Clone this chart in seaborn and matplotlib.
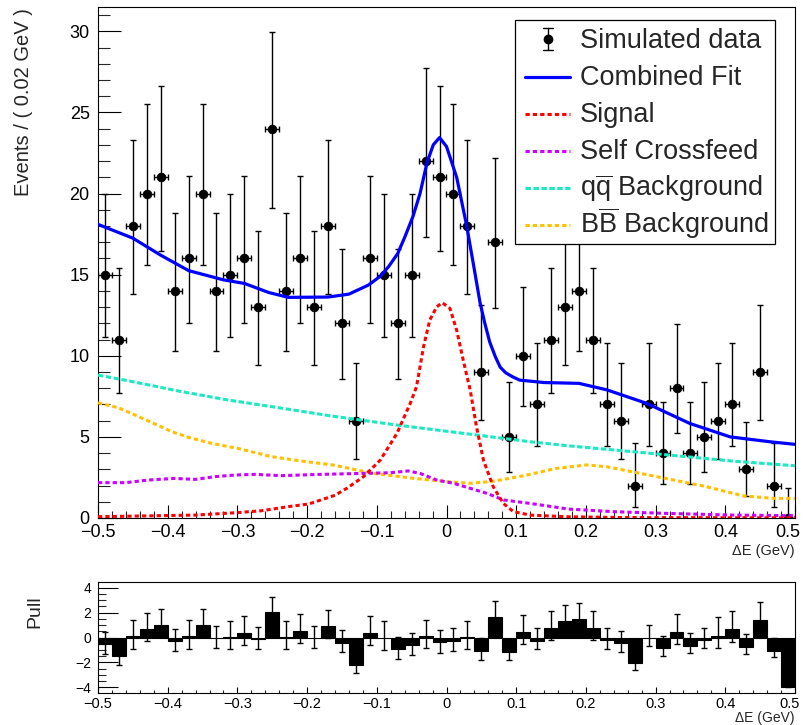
import math
import numpy as np
import pandas as pd
import matplotlib
matplotlib.use("Agg")
import matplotlib.pyplot as plt
import matplotlib.transforms as mtrans
import seaborn as sns
from matplotlib.lines import Line2D
from matplotlib.patches import Rectangle
from matplotlib.ticker import MultipleLocator, FixedLocator

# ---------------- data ----------------
bin_centers = np.round(np.arange(-0.49, 0.5, 0.02), 2)
counts = [15, 11, 18, 20, 21, 14, 16, 20, 14, 15, 16, 13, 24, 14, 16, 13, 18, 12, 6, 16,
          15, 12, 15, 22, 21, 20, 18, 9, 17, 5, 10, 7, 11, 13, 14, 11, 7, 6, 2, 7,
          4, 8, 4, 5, 6, 7, 3, 9, 2, 0]
pulls = [-0.53, -1.47, 0.1, 0.72, 1.04, -0.3, 0.1, 1.04, -0.08, 0.05, 0.4, -0.16, 2.05,
         0.05, 0.56, -0.08, 0.96, -0.43, -2.2, 0.4, 0.0, -0.96, -0.64, 0.13, -0.4,
         -0.27, 0.05, -1.07, 1.63, -1.15, 0.45, -0.27, 0.8, 1.31, 1.49, 0.8, -0.2,
         -0.48, -2.08, -0.03, -0.88, 0.45, -0.67, -0.2, 0.13, 0.67, -0.75, 1.41, -1.07, -3.95]

fit_x = [-0.50, -0.45, -0.41, -0.37, -0.32, -0.29, -0.255, -0.227, -0.17, -0.14, -0.112,
         -0.095, -0.083, -0.07, -0.06, -0.048, -0.038, -0.028, -0.019, -0.010, 0.0, 0.0146,
         0.029, 0.04, 0.048, 0.055, 0.062, 0.07, 0.077, 0.085, 0.095, 0.105, 0.14, 0.19,
         0.23, 0.287, 0.349, 0.407, 0.464, 0.50]
fit_y = [18.1, 17.25, 16.2, 15.25, 14.68, 14.46, 13.9, 13.6, 13.62, 13.8, 14.36,
         14.9, 15.5, 16.3, 17.3, 18.6, 20.0, 21.9, 23.0, 23.45, 22.9, 21.0,
         18.0, 15.3, 13.3, 12.0, 10.85, 9.95, 9.3, 8.95, 8.7, 8.5, 8.35, 8.3,
         7.9, 7.07, 5.83, 5.0, 4.7, 4.54]

sig_x = [-0.5, -0.36, -0.30, -0.265, -0.227, -0.198, -0.174, -0.16, -0.143, -0.119, -0.095,
         -0.071, -0.052, -0.043, -0.033, -0.024, -0.014, -0.006, 0.005, 0.0146, 0.024,
         0.034, 0.043, 0.053, 0.067, 0.0815, 0.096, 0.12, 0.17, 0.25, 0.5]
sig_y = [0.08, 0.18, 0.33, 0.45, 0.7, 0.86, 1.2, 1.4, 1.83, 2.55, 3.57,
         5.22, 7.07, 8.09, 10.55, 12.2, 13.02, 13.27, 12.92, 11.58, 9.73,
         7.89, 5.63, 3.57, 1.93, 0.9, 0.39, 0.18, 0.08, 0.03, 0.01]

scf_x = [-0.5, -0.46, -0.428, -0.39, -0.36, -0.332, -0.303, -0.275, -0.237, -0.18, -0.119,
         -0.081, -0.055, -0.038, -0.014, 0.01, 0.034, 0.058, 0.082, 0.12, 0.175, 0.24,
         0.31, 0.41, 0.5]
scf_y = [2.18, 2.18, 2.34, 2.44, 2.38, 2.55, 2.65, 2.69, 2.61, 2.69, 2.75,
         2.79, 2.9, 2.75, 2.34, 2.14, 1.83, 1.52, 1.11, 0.9, 0.55, 0.39,
         0.29, 0.18, 0.14]

qq_x = [-0.5, -0.4565, -0.385, -0.313, -0.241, -0.167, -0.071, 0.024, 0.12, 0.175, 0.31, 0.41, 0.5]
qq_y = [8.81, 8.46, 7.83, 7.27, 6.8, 6.3, 5.73, 5.22, 4.7, 4.45, 3.92, 3.51, 3.22]

bb_x = [-0.5, -0.471, -0.447, -0.418, -0.394, -0.37, -0.337, -0.299, -0.251, -0.208, -0.163,
        -0.105, -0.048, 0.0, 0.034, 0.065, 0.11, 0.158, 0.201, 0.23, 0.278, 0.326, 0.373,
        0.426, 0.469, 0.5]
bb_y = [7.1, 6.8, 6.35, 5.79, 5.32, 4.97, 4.6, 4.29, 3.78, 3.51, 3.27,
        2.75, 2.45, 2.24, 2.14, 2.25, 2.6, 3.06, 3.27, 3.16, 2.75, 2.34, 1.93,
        1.36, 1.21, 1.21]

legend_labels = ["Simulated data", "Combined Fit", "Signal", "Self Crossfeed",
                 r"$\mathrm{q\overline{q}}$ Background", r"$\mathrm{B\overline{B}}$ Background"]


# ---------------- Poisson (Garwood) 68% intervals for the counts ----------------
def pois_cdf(n, mu):
    s, term = 0.0, math.exp(-mu)
    for k in range(n + 1):
        if k > 0:
            term *= mu / k
        s += term
    return s


def garwood(n, a=0.158655):
    if n == 0:
        lo = 0.0
    else:
        l, h = 0.0, float(n)
        for _ in range(80):
            m = 0.5 * (l + h)
            if 1 - pois_cdf(n - 1, m) < a:
                l = m
            else:
                h = m
        lo = 0.5 * (l + h)
    l, h = float(n), n + 10 * math.sqrt(n + 1) + 10
    for _ in range(80):
        m = 0.5 * (l + h)
        if pois_cdf(n, m) > a:
            l = m
        else:
            h = m
    hi = 0.5 * (l + h)
    return n - lo, hi - n


errs = np.array([garwood(n) for n in counts])
err_lo, err_hi = errs[:, 0], errs[:, 1]

pull_up, pull_dn = [], []
for p, lo, hi in zip(pulls, err_lo, err_hi):
    if p < 0:
        pull_up.append(1.0)
        pull_dn.append(lo / hi)
    else:
        pull_dn.append(1.0)
        pull_up.append(hi / lo if lo > 0 else 1.0)

df = pd.DataFrame({"x": bin_centers, "n": counts})

# ---------------- style ----------------
sns.set_theme(style="ticks")
plt.rcParams["font.family"] = ["Liberation Sans", "DejaVu Sans"]
plt.rcParams["mathtext.fontset"] = "custom"
plt.rcParams["mathtext.rm"] = "Liberation Sans"
plt.rcParams["mathtext.it"] = "Liberation Sans:italic"
plt.rcParams["axes.unicode_minus"] = True

W, H = 804, 725
fig = plt.figure(figsize=(W / 100, H / 100), dpi=100)
fig.patch.set_facecolor("white")


def fx(px):
    return px / W


def fy(py):
    return 1 - py / H


ax = fig.add_axes([fx(98), fy(518), 697 / W, 511 / H])
axp = fig.add_axes([fx(98), fy(693), 697 / W, 111 / H])

# ---------------- main panel ----------------
ax.errorbar(df["x"], df["n"], xerr=0.01, yerr=[err_lo, err_hi], fmt="none",
            ecolor="black", elinewidth=1.0, capsize=2.4, capthick=1.0, zorder=4)
sns.scatterplot(data=df, x="x", y="n", ax=ax, color="black", s=40, marker="o",
                edgecolor="black", linewidth=0.5, zorder=5, legend=False)

c_fit = "#0000ff"
c_sig = "#ff0000"
c_scf = "#cc00ff"
c_qq = "#1ee8c4"
c_bb = "#ffc000"
dot = (0, (1.4, 1.0))
dash_qq = (0, (1.8, 0.8))

sns.lineplot(x=fit_x, y=fit_y, ax=ax, sort=False, estimator=None, color=c_fit,
             linewidth=2.3, zorder=10)
sns.lineplot(x=sig_x, y=sig_y, ax=ax, sort=False, estimator=None, color=c_sig,
             linewidth=2.2, linestyle=dot, zorder=9)
sns.lineplot(x=scf_x, y=scf_y, ax=ax, sort=False, estimator=None, color=c_scf,
             linewidth=2.2, linestyle=dot, zorder=8)
sns.lineplot(x=qq_x, y=qq_y, ax=ax, sort=False, estimator=None, color=c_qq,
             linewidth=2.2, linestyle=dash_qq, zorder=7)
sns.lineplot(x=bb_x, y=bb_y, ax=ax, sort=False, estimator=None, color=c_bb,
             linewidth=2.2, linestyle=dot, zorder=6)

ax.set_xlim(-0.5, 0.5)
ax.set_ylim(0, 31.5)
ax.set_xlabel("")
ax.set_ylabel("")
ax.xaxis.set_major_locator(MultipleLocator(0.1))
ax.xaxis.set_minor_locator(MultipleLocator(0.02))
ax.yaxis.set_major_locator(MultipleLocator(5))
ax.yaxis.set_minor_locator(MultipleLocator(1))
fmt = matplotlib.ticker.FuncFormatter(
    lambda v, p: ("\u2212" if v < -1e-9 else "") + ("%g" % abs(round(v, 2))))
ax.xaxis.set_major_formatter(fmt)
ax.tick_params(axis="y", which="major", direction="in", length=16.5, width=0.8,
               labelsize=13, pad=6, colors="black")
ax.tick_params(axis="y", which="minor", direction="in", length=8.5, width=0.8)
ax.tick_params(axis="x", which="major", direction="in", length=9.5, width=0.8,
               labelsize=13, pad=4, colors="black")
ax.tick_params(axis="x", which="minor", direction="in", length=5, width=0.8)
for s in ax.spines.values():
    s.set_visible(True)
    s.set_linewidth(0.8)
    s.set_color("black")

# ---------------- legend (ROOT-style box, fixed row pitch) ----------------
leg_left, leg_top, leg_right, leg_bottom = 515, 20, 775, 244
fig.add_artist(Rectangle((fx(leg_left), fy(leg_bottom)), (leg_right - leg_left) / W,
                         (leg_bottom - leg_top) / H, transform=fig.transFigure,
                         facecolor="white", edgecolor="black", linewidth=0.9, zorder=20))
baselines = [48, 85, 122, 159, 196, 233]
styles = [None,
          dict(color=c_fit, linewidth=2.3, linestyle="-"),
          dict(color=c_sig, linewidth=2.2, linestyle=dot),
          dict(color=c_scf, linewidth=2.2, linestyle=dot),
          dict(color=c_qq, linewidth=2.2, linestyle=dash_qq),
          dict(color=c_bb, linewidth=2.2, linestyle=dot)]
for lab, base, st in zip(legend_labels, baselines, styles):
    yc = base - 9
    if st is None:
        xm = 548
        fig.add_artist(Line2D([fx(xm), fx(xm)], [fy(yc - 11), fy(yc + 11)],
                              transform=fig.transFigure, color="black", linewidth=1.0, zorder=21))
        for yy in (yc - 11, yc + 11):
            fig.add_artist(Line2D([fx(xm - 5), fx(xm + 5)], [fy(yy), fy(yy)],
                                  transform=fig.transFigure, color="black", linewidth=1.0,
                                  zorder=21))
        fig.add_artist(Line2D([fx(xm)], [fy(yc)], transform=fig.transFigure, marker="o",
                              markersize=6, color="black", linestyle="none", zorder=22))
    else:
        fig.add_artist(Line2D([fx(525), fx(570)], [fy(yc + 1), fy(yc + 1)],
                              transform=fig.transFigure, zorder=21, **st))
    fig.text(fx(580), fy(base), lab, ha="left", va="baseline", fontsize=19.5, zorder=22)

fig.text(fx(24), fy(8), "Events / ( 0.02 GeV )", rotation=90, ha="center",
         va="top", fontsize=14.5)
fig.text(fx(795), fy(551), "\u0394E (GeV)", ha="right", va="center", fontsize=10.5)

# ---------------- pull panel ----------------
axp.bar(bin_centers, pulls, width=0.02, color="black", edgecolor="black",
        linewidth=0.8, zorder=3)
axp.errorbar(bin_centers, pulls, yerr=[pull_dn, pull_up], fmt="none", ecolor="black",
             elinewidth=1.0, capsize=2.4, capthick=1.0, zorder=4)
axp.set_xlim(-0.5, 0.5)
axp.set_ylim(-4.45, 4.45)
axp.set_xlabel("")
axp.set_ylabel("")
axp.xaxis.set_major_locator(MultipleLocator(0.1))
axp.xaxis.set_minor_locator(MultipleLocator(0.02))
axp.yaxis.set_major_locator(FixedLocator([-4, -2, 0, 2, 4]))
axp.yaxis.set_minor_locator(MultipleLocator(0.5))
axp.xaxis.set_major_formatter(fmt)
axp.tick_params(axis="y", which="major", direction="in", length=14.5, width=0.8,
                labelsize=10, pad=5, colors="black")
axp.tick_params(axis="y", which="minor", direction="in", length=6, width=0.8)
axp.tick_params(axis="x", which="major", direction="in", length=4, width=0.8,
                labelsize=10.5, pad=3, colors="black")
axp.tick_params(axis="x", which="minor", direction="in", length=2.5, width=0.8)
for s in axp.spines.values():
    s.set_visible(True)
    s.set_linewidth(0.8)
    s.set_color("black")

fig.text(fx(35), fy(595), "Pull", rotation=90, ha="center", va="top", fontsize=14)
fig.text(fx(795), fy(718), "\u0394E (GeV)", ha="right", va="center", fontsize=10)

# shift the last x tick label inward so it stays inside the canvas (as ROOT does)
fig.canvas.draw()
for a, shift in ((ax, -7), (axp, -5)):
    for lab in a.get_xticklabels():
        if lab.get_text() == "0.5":
            lab.set_transform(lab.get_transform() +
                              mtrans.ScaledTranslation(shift / 100, 0, fig.dpi_scale_trans))

fig.savefig("out.png", dpi=100, facecolor="white")
